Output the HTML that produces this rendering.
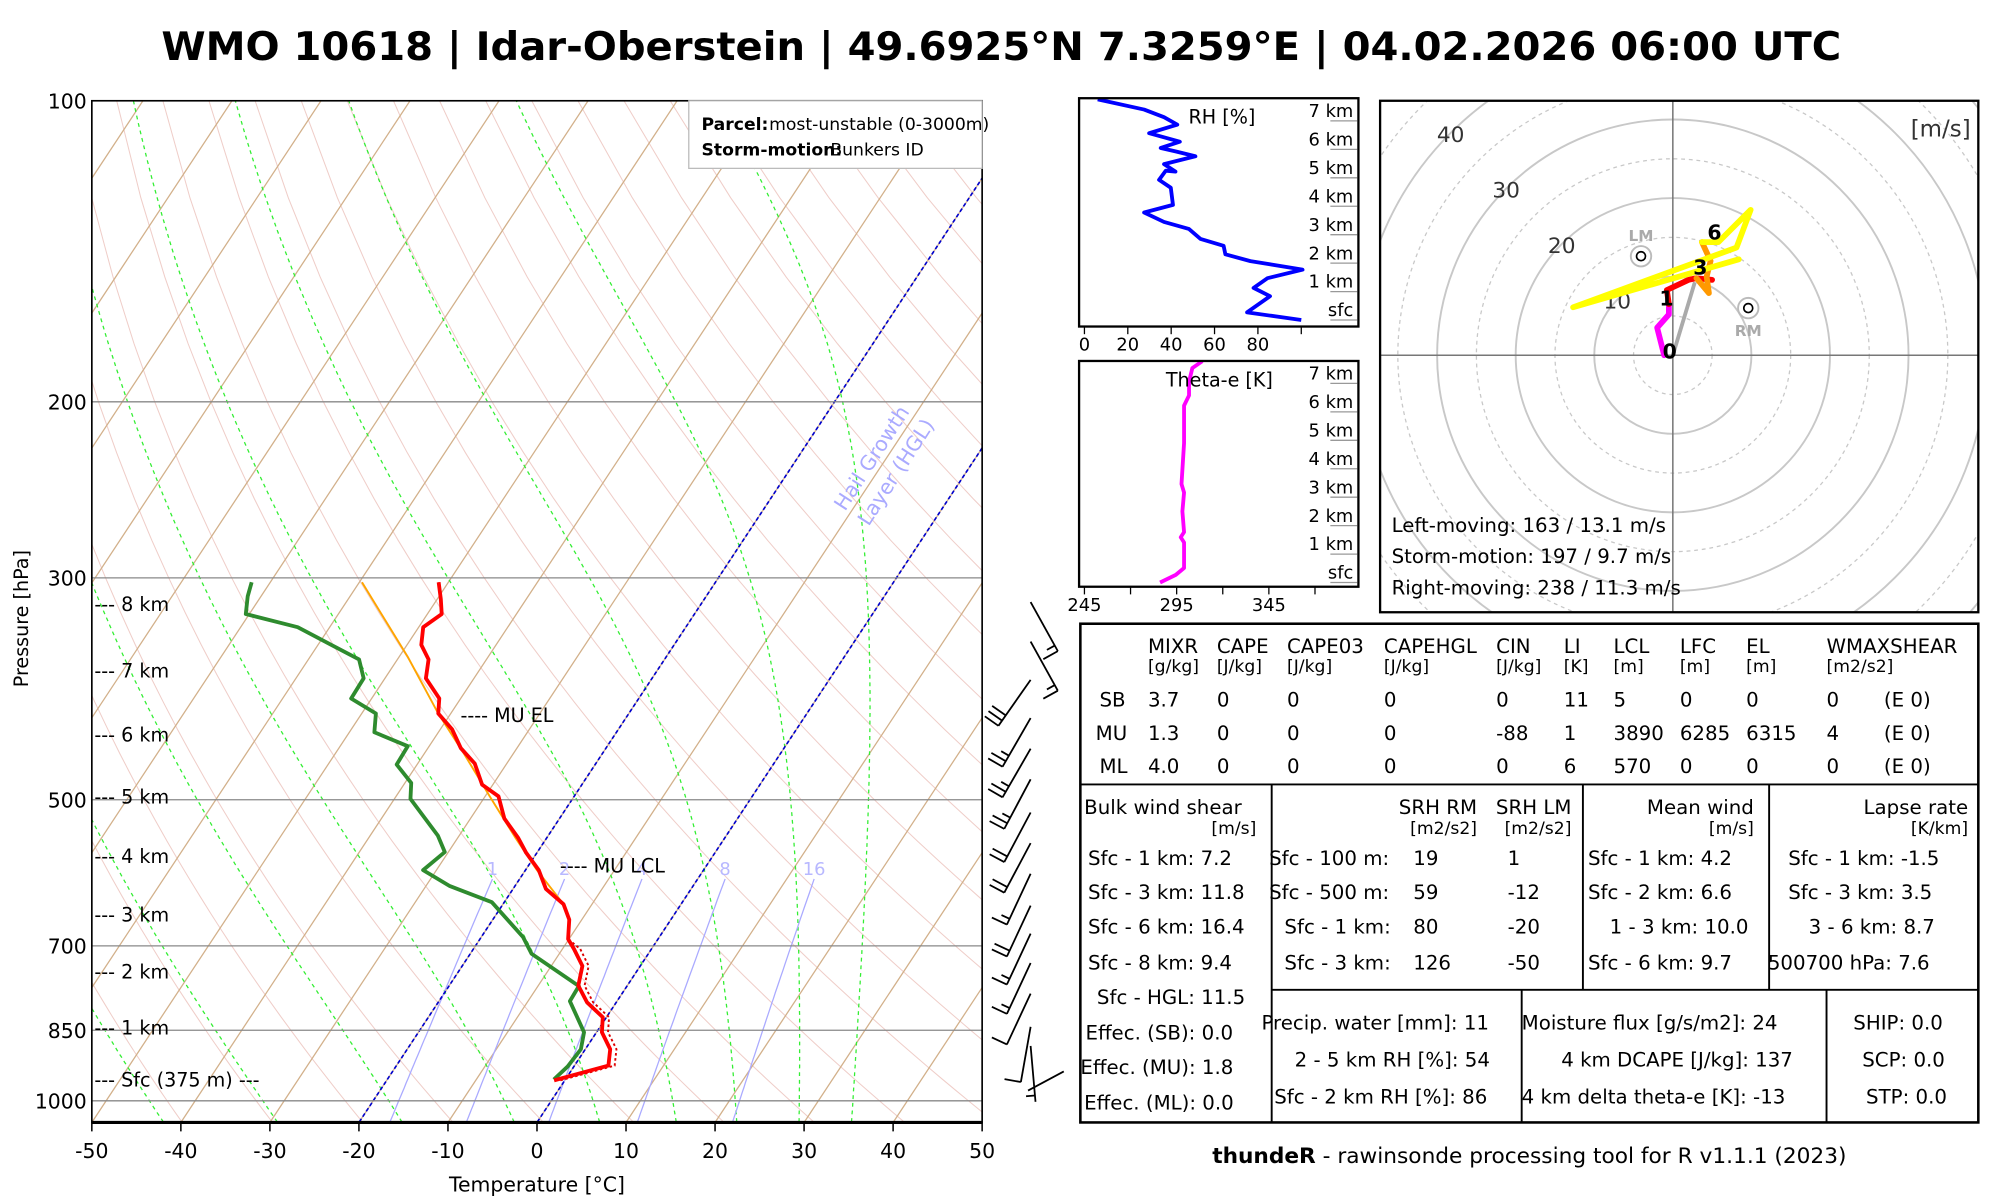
<!DOCTYPE html>
<html><head><meta charset="utf-8"><style>
html,body{margin:0;padding:0;background:#fff;}
svg{display:block;font-family:"DejaVu Sans","Liberation Sans",sans-serif;}
</style></head><body>
<svg id="root" width="2000" height="1200" viewBox="0 0 1568 940.8" preserveAspectRatio="none" xmlns="http://www.w3.org/2000/svg">
<defs>
<clipPath id="skewclip"><rect x="72" y="79" width="698" height="801"/></clipPath>
<clipPath id="hodoclip"><rect x="1082" y="79" width="469" height="401"/></clipPath>
</defs>
<rect width="1568" height="941" fill="#fff"/>
<text x="785" y="47" text-anchor="middle" font-size="31" font-weight="bold" textLength="1317" lengthAdjust="spacingAndGlyphs">WMO 10618 | Idar-Oberstein | 49.6925°N 7.3259°E | 04.02.2026 06:00 UTC</text>

<g id="skew">
  <g id="bg" clip-path="url(#skewclip)"></g>
  <g id="series" clip-path="url(#skewclip)"></g>
  <rect x="72" y="79" width="698" height="801" fill="none" stroke="#000" stroke-width="1.3"/>
  <line x1="72" y1="880" x2="770" y2="880" stroke="#000" stroke-width="2.5"/>
  <g id="axes"></g>
  <text transform="translate(22,485) rotate(-90)" text-anchor="middle" font-size="15">Pressure [hPa]</text>
  <text x="421" y="934" text-anchor="middle" font-size="16">Temperature [°C]</text>
  <g>
    <rect x="540" y="79" width="230" height="53" fill="#fff" stroke="#bbb" stroke-width="1"/>
    <text x="550" y="102" font-size="13.5"><tspan font-weight="bold">Parcel:</tspan><tspan x="603">most-unstable (0-3000m)</tspan></text>
    <text x="550" y="122" font-size="13.5"><tspan font-weight="bold">Storm-motion:</tspan><tspan x="651">Bunkers ID</tspan></text>
  </g>
  <g fill="#aaaaff" font-size="16" text-anchor="middle">
    <text transform="translate(688,362) rotate(-57)">Hail Growth</text>
    <text transform="translate(707,373) rotate(-57)">Layer (HGL)</text>
  </g>
  <text x="361" y="566" font-size="15">---- MU EL</text>
  <text x="439" y="684" font-size="15">---- MU LCL</text>
</g>

<g id="barbs"></g>

<g id="rhpanel"></g>
<g id="thpanel"></g>
<g id="hodo"></g>

<g font-size="15.5">
  <rect x="847" y="489" width="704" height="391" fill="none" stroke="#000" stroke-width="2"/>
  <line x1="847" y1="615" x2="1551" y2="615" stroke="#000" stroke-width="1.5"/>
  <line x1="997" y1="615" x2="997" y2="880" stroke="#000" stroke-width="1.5"/>
  <line x1="1241" y1="615" x2="1241" y2="776" stroke="#000" stroke-width="1.5"/>
  <line x1="1387" y1="615" x2="1387" y2="776" stroke="#000" stroke-width="1.5"/>
  <line x1="997" y1="776" x2="1551" y2="776" stroke="#000" stroke-width="1.5"/>
  <line x1="1193" y1="776" x2="1193" y2="880" stroke="#000" stroke-width="1.5"/>
  <line x1="1432" y1="776" x2="1432" y2="880" stroke="#000" stroke-width="1.5"/>
  <g>
    <text y="512"><tspan x="900">MIXR</tspan><tspan x="954">CAPE</tspan><tspan x="1009">CAPE03</tspan><tspan x="1085">CAPEHGL</tspan><tspan x="1173">CIN</tspan><tspan x="1226">LI</tspan><tspan x="1265">LCL</tspan><tspan x="1317">LFC</tspan><tspan x="1369">EL</tspan><tspan x="1432">WMAXSHEAR</tspan></text>
    <text y="527" font-size="13.5"><tspan x="900">[g/kg]</tspan><tspan x="954">[J/kg]</tspan><tspan x="1009">[J/kg]</tspan><tspan x="1085">[J/kg]</tspan><tspan x="1173">[J/kg]</tspan><tspan x="1226">[K]</tspan><tspan x="1265">[m]</tspan><tspan x="1317">[m]</tspan><tspan x="1369">[m]</tspan><tspan x="1432">[m2/s2]</tspan></text>
    <text y="554"><tspan x="862">SB</tspan><tspan x="900">3.7</tspan><tspan x="954">0</tspan><tspan x="1009">0</tspan><tspan x="1085">0</tspan><tspan x="1173">0</tspan><tspan x="1226">11</tspan><tspan x="1265">5</tspan><tspan x="1317">0</tspan><tspan x="1369">0</tspan><tspan x="1432">0</tspan><tspan x="1477">(E 0)</tspan></text>
    <text y="580"><tspan x="859">MU</tspan><tspan x="900">1.3</tspan><tspan x="954">0</tspan><tspan x="1009">0</tspan><tspan x="1085">0</tspan><tspan x="1173">-88</tspan><tspan x="1226">1</tspan><tspan x="1265">3890</tspan><tspan x="1317">6285</tspan><tspan x="1369">6315</tspan><tspan x="1432">4</tspan><tspan x="1477">(E 0)</tspan></text>
    <text y="606"><tspan x="862">ML</tspan><tspan x="900">4.0</tspan><tspan x="954">0</tspan><tspan x="1009">0</tspan><tspan x="1085">0</tspan><tspan x="1173">0</tspan><tspan x="1226">6</tspan><tspan x="1265">570</tspan><tspan x="1317">0</tspan><tspan x="1369">0</tspan><tspan x="1432">0</tspan><tspan x="1477">(E 0)</tspan></text>
  </g>
  <g>
    <text x="850" y="638">Bulk wind shear</text>
    <text x="985" y="654" text-anchor="end" font-size="13.5">[m/s]</text>
    <text x="853" y="678">Sfc - 1 km: 7.2</text>
    <text x="853" y="705">Sfc - 3 km: 11.8</text>
    <text x="853" y="732">Sfc - 6 km: 16.4</text>
    <text x="853" y="760">Sfc - 8 km: 9.4</text>
    <text x="860" y="787">Sfc - HGL: 11.5</text>
    <text x="851" y="815">Effec. (SB): 0.0</text>
    <text x="847" y="842">Effec. (MU): 1.8</text>
    <text x="850" y="870">Effec. (ML): 0.0</text>
  </g>
  <g>
    <text x="1158" y="638" text-anchor="end">SRH RM</text>
    <text x="1232" y="638" text-anchor="end">SRH LM</text>
    <text x="1158" y="654" text-anchor="end" font-size="13.5">[m2/s2]</text>
    <text x="1232" y="654" text-anchor="end" font-size="13.5">[m2/s2]</text>
    <text y="678"><tspan x="995">Sfc - 100 m:</tspan><tspan x="1108">19</tspan><tspan x="1182">1</tspan></text>
    <text y="705"><tspan x="995">Sfc - 500 m:</tspan><tspan x="1108">59</tspan><tspan x="1182">-12</tspan></text>
    <text y="732"><tspan x="1007">Sfc - 1 km:</tspan><tspan x="1108">80</tspan><tspan x="1182">-20</tspan></text>
    <text y="760"><tspan x="1007">Sfc - 3 km:</tspan><tspan x="1108">126</tspan><tspan x="1182">-50</tspan></text>
  </g>
  <g>
    <text x="1375" y="638" text-anchor="end">Mean wind</text>
    <text x="1375" y="654" text-anchor="end" font-size="13.5">[m/s]</text>
    <text x="1245" y="678">Sfc - 1 km: 4.2</text>
    <text x="1245" y="705">Sfc - 2 km: 6.6</text>
    <text x="1262" y="732">1 - 3 km: 10.0</text>
    <text x="1245" y="760">Sfc - 6 km: 9.7</text>
  </g>
  <g>
    <text x="1543" y="638" text-anchor="end">Lapse rate</text>
    <text x="1543" y="654" text-anchor="end" font-size="13.5">[K/km]</text>
    <text x="1402" y="678">Sfc - 1 km: -1.5</text>
    <text x="1402" y="705">Sfc - 3 km: 3.5</text>
    <text x="1418" y="732">3 - 6 km: 8.7</text>
    <text x="1386" y="760">500700 hPa: 7.6</text>
  </g>
  <g>
    <text x="989" y="807">Precip. water [mm]: 11</text>
    <text x="1015" y="836">2 - 5 km RH [%]: 54</text>
    <text x="999" y="865">Sfc - 2 km RH [%]: 86</text>
    <text x="1193" y="807">Moisture flux [g/s/m2]: 24</text>
    <text x="1224" y="836">4 km DCAPE [J/kg]: 137</text>
    <text x="1193" y="865">4 km delta theta-e [K]: -13</text>
  </g>
  <g>
    <text x="1453" y="807">SHIP: 0.0</text>
    <text x="1460" y="836">SCP: 0.0</text>
    <text x="1463" y="865">STP: 0.0</text>
  </g>
</g>
<text x="1199" y="912" text-anchor="middle" font-size="17"><tspan font-weight="bold">thundeR</tspan> - rawinsonde processing tool for R v1.1.1 (2023)</text>
</svg>
<script>
// ---------- Skew-T data ----------
const tempP = [954,922,888,854,825,797,767,733,705,689,659,636,614,588,565,546,522,496,483,460,444,425,410,396,378,362,350,336,326,315,303];
const tempT = [-1.2,3.8,2.8,0.6,-0.4,-3.3,-5.5,-6.5,-8.7,-10.1,-11.4,-13.2,-16.3,-18.5,-21.2,-23.2,-26.2,-28.5,-31.2,-33.6,-36.3,-38.7,-41.4,-42.4,-45.4,-46.5,-48.4,-49.5,-48.4,-49.6,-51.1];
const dewP = [952,924,888,854,795,768,713,686,633,610,588,564,543,499,481,461,442,428,410,396,378,362,350,336,326,313,303];
const dewT = [-1.3,-0.7,-0.5,-1.4,-5.3,-5.4,-13.1,-15.3,-21.4,-27.3,-31.5,-30.4,-32.4,-38.2,-39.3,-42.3,-42.4,-47.2,-48.4,-52.3,-52.4,-54.3,-58.5,-63.6,-70.4,-71.5,-72.1];
const parcelP = [636,588,546,496,450,410,360,303];
const parcelT = [-13.2,-18.7,-23.5,-29.5,-35.5,-41.4,-49,-59.7];
const pressureTicks = [100,200,300,500,700,850,1000];
const tempTicks = [-50,-40,-30,-20,-10,0,10,20,30,40,50];
const mixingRatios = [1,2,4,8,16];
const moistStartT = [-42,-29.2,-15.2,-2.6,7,15.6,22.4,29.4,35.3];
const altLabels = ["--- 8 km","--- 7 km","--- 6 km","--- 5 km","--- 4 km","--- 3 km","--- 2 km","--- 1 km","--- Sfc (375 m) ---"];
const altP = [319,372,431,497,570,652,744,846,954];
// wind barbs: station y, direction, speed (kt)
const barbY = [472,503,533,563,587,611,637,661,685,710,732,755,779,805,820];
const barbDir = [151,151,215,210,210,208,208,208,205,205,205,205,205,190,175];
const barbSpd = [15,15,30,25,25,25,20,20,15,20,15,15,10,10,5];
// RH / theta-e panels
const rhH = [0,0.27,0.84,1.13,1.47,1.77,2.07,2.31,2.61,2.85,3.2,3.45,3.78,4.05,4.65,4.93,5.25,5.22,5.48,5.76,5.93,6.05,6.27,6.57,6.87,7.13,7.4,7.76];
const rhV = [100,75,85.6,78,84.4,100.6,76.5,65,64.2,53.5,48.2,36.7,27.5,40.8,39.8,34.4,37.5,42,36.7,51.2,42,35.2,44,29.8,42.8,36.7,27.5,6.1];
const thH = [0,0.27,0.51,1.41,1.59,1.77,2.5,3.16,3.46,4.9,6.22,6.58,7.06,7.54,7.78];
const thV = [286,294.5,299,299,297.2,299,298.1,299,297.6,299,299,301.7,301.7,303.5,308.9];
const kmLabels = ["sfc","1 km","2 km","3 km","4 km","5 km","6 km","7 km"];
// hodograph (u,v m/s)
const hodoU0 = [-1.1,-2.0,-0.5,-0.5];
const hodoV0 = [0,3.5,5.2,6.5];
const hodoU1 = [-0.5,-0.76,2.0,3.0,5.0];
const hodoV1 = [6.5,8.3,9.6,9.8,9.6];
const hodoU3 = [3.0,4.6,4.3,4.8,3.7];
const hodoV3 = [9.8,7.9,10,12,14.4];
const hodoU6 = [3.7,5.8,9.9,8.1,-12.7,8.4];
const hodoV6 = [14.4,14.4,18.5,13.7,6.1,12.2];
const stormU = [2.8, -4.05, 9.6];
const stormV = [9.3, 12.6, 6.0];

const NS="http://www.w3.org/2000/svg";
function mk(parent, tag, attrs, text){const e=document.createElementNS(NS,tag);for(const k in attrs)e.setAttribute(k,attrs[k]);if(text!==undefined)e.textContent=text;parent.appendChild(e);return e;}
function yP(p){return 79+340.5*Math.log(p/100);}
function xT(T,p){return 72+(T+50)*6.98+(880-yP(p))*0.66;}
function ptsTP(Ts,Ps){return Ts.map((t,i)=>xT(t,Ps[i]).toFixed(1)+","+yP(Ps[i]).toFixed(1)).join(" ");}
function es(Tc){return 6.112*Math.exp(17.67*Tc/(Tc+243.5));}

const bg=document.getElementById('bg');
for(let th=200;th<=520;th+=10){
  const pts=[];
  for(let p=1050;p>=100;p-=25){const T=th*Math.pow(p/1000,0.2857)-273.15;pts.push(xT(T,p).toFixed(1)+","+yP(p).toFixed(1));}
  const e=mk(bg,'polyline',{points:pts.join(" "),fill:"none",stroke:"#e8b8b0","stroke-width":0.8,opacity:0.7});
  
  
}
for(let T=-170;T<=50;T+=10){
  const e=mk(bg,'line',{x1:xT(T,1050),y1:yP(1050),x2:xT(T,100),y2:yP(100),stroke:"#d2b08a","stroke-width":1});
  
  
}
moistStartT.forEach(T0=>{
  let T=T0+273.15;const pts=[];
  for(let p=1050;p>=100;p-=5){
    pts.push(xT(T-273.15,p).toFixed(1)+","+yP(p).toFixed(1));
    const e=es(T-273.15);const rs=0.622*e/(p-e);
    const dTdp=(287*T+2.5e6*rs)/(p*(1004+(2.5e6*2.5e6*rs*0.622)/(287*T*T)));
    T-=dTdp*5;
  }
  const e=mk(bg,'polyline',{points:pts.join(" "),fill:"none",stroke:"#33ee33","stroke-width":1,"stroke-dasharray":"3,3"});
  
  
});
mixingRatios.forEach((w,i)=>{
  const pts=[];
  for(let p=1050;p>=600;p-=10){const e=w/1000*p/(0.622+w/1000);const l=Math.log(e/6.112);const Td=243.5*l/(17.67-l);pts.push(xT(Td,p).toFixed(1)+","+yP(p).toFixed(1));}
  const e=mk(bg,'polyline',{points:pts.join(" "),fill:"none",stroke:"#aaaaff","stroke-width":1});
  
  
  const ee=600/1000*w/(0.622+w/1000);const l=Math.log(ee/6.112);const Td=243.5*l/(17.67-l);
  const t=mk(bg,'text',{x:xT(Td,600),y:yP(600)-3,"text-anchor":"middle","font-size":14,fill:"#b8b8ff"},String(w));
  
  
});
[-20,0].forEach(T=>{
  const e=mk(bg,'line',{x1:xT(T,1050),y1:yP(1050),x2:xT(T,100),y2:yP(100),stroke:"#0000cc","stroke-width":1.3,"stroke-dasharray":"3,2"});
  
  
});
const axes=document.getElementById('axes');
pressureTicks.forEach(p=>{
  if(p>100){const g=mk(bg,'line',{x1:72,x2:770,y1:yP(p),y2:yP(p),stroke:"#888","stroke-width":1});
  
  }
  const t=mk(axes,'text',{x:68,y:yP(p)+6,"text-anchor":"end","font-size":16},String(p));
  
  
});
tempTicks.forEach(T=>{
  const x=72+(T+50)*6.98;
  const l=mk(axes,'line',{x1:x,x2:x,y1:880,y2:887,stroke:"#000","stroke-width":1.2});
  
  
  const t=mk(axes,'text',{x:x,y:908,"text-anchor":"middle","font-size":16},String(T));
  
  
});
altLabels.forEach((s,i)=>{
  const t=mk(axes,'text',{x:74,y:yP(altP[i])+5,"font-size":15},s);
  
  
});
const ser=document.getElementById('series');
let e;
e=mk(ser,'polyline',{points:ptsTP(parcelT,parcelP),fill:"none",stroke:"orange","stroke-width":1.5});


const vt=tempT.map((t,i)=>tempP[i]>700?t+0.7:t);
e=mk(ser,'polyline',{points:ptsTP(vt,tempP),fill:"none",stroke:"#dd0000","stroke-width":1.5,"stroke-dasharray":"2,2"});


e=mk(ser,'polyline',{points:ptsTP(dewT,dewP),fill:"none",stroke:"#2e8b2e","stroke-width":3,"stroke-linejoin":"round"});


e=mk(ser,'polyline',{points:ptsTP(tempT,tempP),fill:"none",stroke:"#ff0000","stroke-width":3,"stroke-linejoin":"round"});



const bb=document.getElementById('barbs');
barbY.forEach((y,i)=>{
  const d=barbDir[i]*Math.PI/180;const dx=Math.sin(d),dy=-Math.cos(d);
  const sx=808,sy=y,L=44;const ex=sx+dx*L,ey=sy+dy*L;
  const g=mk(bb,'g',{stroke:"#000","stroke-width":1.4,fill:"none"});
  
  
  mk(g,'line',{x1:sx,y1:sy,x2:ex,y2:ey});
  const px=-dy,py=dx;let s=barbSpd[i];let k=0;
  while(s>=10){const bx=ex-dx*k*5,by=ey-dy*k*5;mk(g,'line',{x1:bx,y1:by,x2:bx+px*13,y2:by+py*13});s-=10;k++;}
  if(s>=5){if(k===0)k=1;const bx=ex-dx*k*5,by=ey-dy*k*5;mk(g,'line',{x1:bx,y1:by,x2:bx+px*7,y2:by+py*7});}
});
e=mk(bb,'line',{x1:806,y1:855,x2:834,y2:840,stroke:"#000","stroke-width":1.4});



function panel(gid,top,bot,x0,per,sfcY,xs,hs,col,title,ticks,tickLabels){
  const g=document.getElementById(gid);
  kmLabels.forEach((s,i)=>{
    const y=sfcY-i*22.3;
    const l=mk(g,'line',{x1:1043,x2:1064,y1:y,y2:y,stroke:"#999","stroke-width":1});
    
    
    const t=mk(g,'text',{x:1061,y:y-3,"text-anchor":"end","font-size":14},s);
    
    
  });
  const pts=xs.map((v,i)=>(x0+(v-ticks[0])*per).toFixed(1)+","+(sfcY-hs[i]*22.3).toFixed(1)).join(" ");
  const cp=mk(g,'clipPath',{id:gid+'c'});mk(cp,'rect',{x:846,y:top,width:219,height:bot-top});
  const pl=mk(g,'polyline',{points:pts,fill:"none",stroke:col,"stroke-width":3,"stroke-linejoin":"round","clip-path":"url(#"+gid+"c)"});
  
  
  const tt=mk(g,'text',{x:gid==='rhpanel'?958:956,y:top+20,"text-anchor":"middle","font-size":15},title);
  
  
  const r=mk(g,'rect',{x:846,y:top,width:219,height:bot-top,fill:"none",stroke:"#000","stroke-width":1.8});
  
  
  ticks.forEach((v,i)=>{
    const x=x0+(v-ticks[0])*per;
    const l=mk(g,'line',{x1:x,x2:x,y1:bot,y2:bot+6,stroke:"#000","stroke-width":1});
    
    
    if(tickLabels[i]){const t=mk(g,'text',{x:x,y:bot+19,"text-anchor":"middle","font-size":14},tickLabels[i]);
    
    }
  });
}
panel('rhpanel',77,256,850.2,1.70,250.9,rhV,rhH,"#0000ff","RH [%]",[0,20,40,60,80,100],["0","20","40","60","80",""]);
panel('thpanel',283,460,850.2,1.446,456.7,thV,thH,"#ff00ff","Theta-e [K]",[245,270,295,320,345,370],["245","","295","","345",""]);

const hg=document.getElementById('hodo');
const cx=1311.5,cy=278.5,k=6.16;
const hc=mk(hg,'g',{"clip-path":"url(#hodoclip)"});
for(let r=5;r<=60;r+=5){
  const c=mk(hc,'circle',{cx:cx,cy:cy,r:r*k,fill:"none",stroke:"#c8c8c8","stroke-width":r%10===0?1.5:1,"stroke-dasharray":r%10===0?"none":"3,3"});
  
  
}
mk(hc,'line',{x1:1082,x2:1551,y1:cy,y2:cy,stroke:"#777","stroke-width":1.2});
mk(hc,'line',{x1:cx,x2:cx,y1:79,y2:480,stroke:"#777","stroke-width":1.2});
[10,20,30,40].forEach(r=>{
  const t=mk(hc,'text',{x:cx-r*k*0.707,y:cy-r*k*0.707+7,"text-anchor":"middle","font-size":17,fill:"#333"},String(r));
  
  
});
function hpts(U,V){return U.map((u,i)=>(cx+u*k).toFixed(1)+","+(cy-V[i]*k).toFixed(1)).join(" ");}
e=mk(hc,'line',{x1:cx,y1:cy,x2:cx+stormU[0]*k,y2:cy-stormV[0]*k,stroke:"#aaa","stroke-width":3});


[[hodoU0,hodoV0,"#ff00ff","hodo-0-1km"],[hodoU1,hodoV1,"#ff0000","hodo-1-3km"],[hodoU3,hodoV3,"#ff9900","hodo-3-6km"],[hodoU6,hodoV6,"#ffff00","hodo-6km-plus"]].forEach(a=>{
  const pl=mk(hc,'polyline',{points:hpts(a[0],a[1]),fill:"none",stroke:a[2],"stroke-width":4.5,"stroke-linejoin":"round","stroke-linecap":"round"});
  
  
});
[["0",-0.4,-0.4],["1",-0.8,6.3],["3",3.5,10.3],["6",5.3,14.7]].forEach(a=>{
  const t=mk(hc,'text',{x:cx+a[1]*k,y:cy-a[2]*k,"text-anchor":"middle","font-size":16,"font-weight":"bold"},a[0]);
  
  
});
[[1,"LM",-1],[2,"RM",1]].forEach(a=>{
  const x=cx+stormU[a[0]]*k,y=cy-stormV[a[0]]*k;
  mk(hc,'circle',{cx:x,cy:y,r:8,fill:"#fff",stroke:"#bbb","stroke-width":1.5});
  mk(hc,'circle',{cx:x,cy:y,r:3.5,fill:"none",stroke:"#000","stroke-width":1.3});
  const t=mk(hc,'text',{x:x,y:y+(a[2]<0?-12:22),"text-anchor":"middle","font-size":12,"font-weight":"bold",fill:"#aaa"},a[1]);
  
  
});
const hr=mk(hg,'rect',{x:1082,y:79,width:469,height:401,fill:"none",stroke:"#000","stroke-width":1.8});


e=mk(hg,'text',{x:1545,y:107,"text-anchor":"end","font-size":18,fill:"#333"},"[m/s]");


["Left-moving: 163 / 13.1 m/s","Storm-motion: 197 / 9.7 m/s","Right-moving: 238 / 11.3 m/s"].forEach((s,i)=>{
  const t=mk(hg,'text',{x:1091,y:417+i*24.5,"font-size":15.5},s);
  
  
});
</script>
</body></html>
